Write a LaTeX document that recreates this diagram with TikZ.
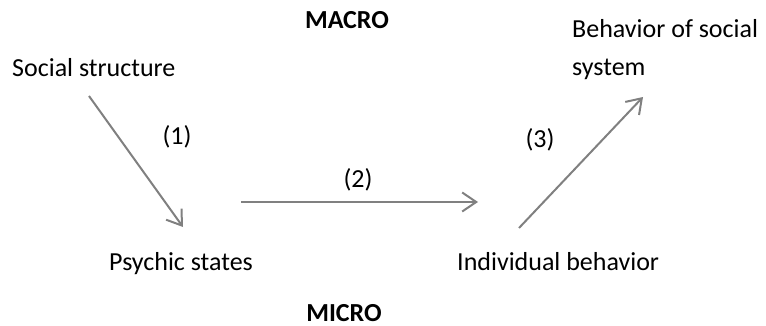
\documentclass[tikz,border=0pt]{standalone}
\usepackage{fontspec}
\setmainfont{Carlito}
\usetikzlibrary{arrows.meta}
\definecolor{linkgray}{RGB}{128,128,128}
\begin{document}
\begin{tikzpicture}[x=1pt,y=1pt,
  lbl/.style={inner sep=0pt,font=\fontsize{26}{38}\selectfont},
  lvl/.style={inner sep=0pt,text depth=0pt,font=\fontsize{26}{30}\selectfont\bfseries},
  link/.style={draw=linkgray,line width=2pt,
    -{Straight Barb[length=14pt,width=19pt,line width=2pt]}}]
\useasboundingbox (0,0) rectangle (766,-326);

% level headings
\node[lvl,anchor=base] (macro) at (347,-29) {MACRO};
\node[lvl,anchor=base] (micro) at (344,-321) {MICRO};

% concepts
\node[lbl,anchor=base west] (social) at (12,-77) {Social structure};
\node[lbl,anchor=base west] (system1) at (572,-38) {Behavior of social};
\node[lbl,anchor=base west] (system2) at (572,-76) {system};
\node[lbl,anchor=base west] (psychic) at (109,-270) {Psychic states};
\node[lbl,anchor=base west] (indiv) at (457,-270) {Individual behavior};

% arrow end points
\coordinate (a1s) at (89,-96);
\coordinate (a1e) at (183,-227);
\coordinate (a2s) at (241,-202);
\coordinate (a2e) at (478,-202);
\coordinate (a3s) at (519,-228);
\coordinate (a3e) at (643,-97);

\draw[link] (a1s) -- (a1e);
\draw[link] (a2s) -- (a2e);
\draw[link] (a3s) -- (a3e);

% step numbers
\node[lbl] (n1) at (177,-137) {(1)};
\node[lbl] (n2) at (358,-180) {(2)};
\node[lbl] (n3) at (540,-140) {(3)};
\end{tikzpicture}
\end{document}
